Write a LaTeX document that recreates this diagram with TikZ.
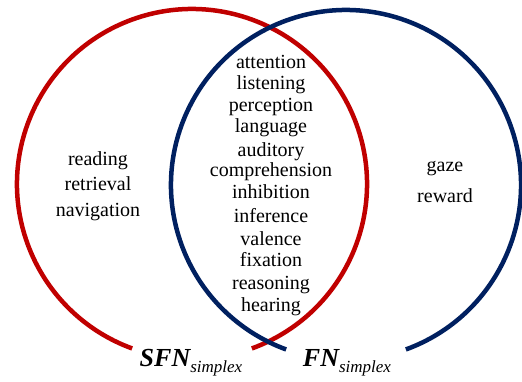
\documentclass[tikz,border=0pt]{standalone}
\usepackage{fontspec}
\setmainfont{Liberation Serif}
\usepackage{tikz}
\definecolor{sfnred}{RGB}{192, 0, 0}
\definecolor{fnblue}{RGB}{0, 32, 96}

\begin{document}
\begin{tikzpicture}[x=1pt, y=1pt,
    ring/.style={line width=4.5pt},
    word/.style={font=\fontsize{20}{22}\selectfont, inner sep=0pt, anchor=base},
    setname/.style={inner sep=0pt, anchor=base}]
    \useasboundingbox (0,0) rectangle (522,381);

    % the two sets, open at the bottom for their names
    \draw[ring, draw=sfnred] (192,197) ++(-70:175) arc[start angle=-70, end angle=250, radius=175];
    \draw[ring, draw=fnblue] (346,196) ++(-70:175) arc[start angle=-70, end angle=250, radius=175];

    % only SFN
    \foreach \w/\y [count=\i] in {reading/165, retrieval/190.5, navigation/216}
        \node[word] (left\i) at (98, 381-\y) {\w};

    % shared terms
    \foreach \w/\y [count=\i] in {attention/69, listening/90, perception/111.7, language/133,
        auditory/156, comprehension/176, inhibition/198, inference/222.7, valence/245,
        fixation/266.7, reasoning/289, hearing/311.7}
        \node[word] (both\i) at (271, 381-\y) {\w};

    % only FN
    \foreach \w/\y [count=\i] in {gaze/171.7, reward/202.7}
        \node[word] (right\i) at (445, 381-\y) {\w};

    \node[setname] (sfn) at (191, 14.3) {{\fontsize{26}{26}\selectfont\bfseries\itshape SFN}\raisebox{-6pt}{\fontsize{17}{17}\selectfont\itshape simplex}};
    \node[setname] (fn) at (347, 14.3) {{\fontsize{26}{26}\selectfont\bfseries\itshape FN}\raisebox{-6pt}{\fontsize{17}{17}\selectfont\itshape simplex}};
\end{tikzpicture}
\end{document}
